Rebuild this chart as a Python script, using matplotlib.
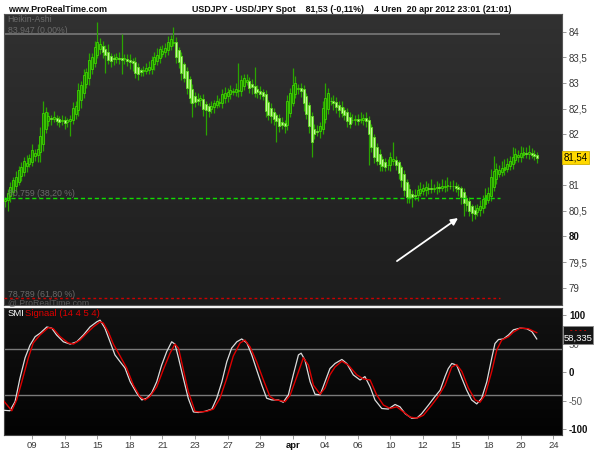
import numpy as np
import matplotlib
matplotlib.use("Agg")
import matplotlib.pyplot as plt
from matplotlib.colors import LinearSegmentedColormap
from matplotlib.patches import Rectangle
from matplotlib import font_manager

# ---------------- data ----------------
ha_close = [
    80.73, 80.85, 80.97, 81.10, 81.16, 81.29, 81.35, 81.48, 81.44, 81.52,
    81.68, 81.62, 81.70, 81.95, 82.40, 82.42, 82.35, 82.30, 82.33, 82.26,
    82.24, 82.28, 82.22, 82.27, 82.30, 82.50, 82.55, 82.85, 82.95, 83.15,
    83.20, 83.45, 83.50, 83.70, 83.80, 83.75, 83.60, 83.55, 83.45, 83.42,
    83.47, 83.50, 83.46, 83.45, 83.48, 83.42, 83.40, 83.38, 83.20, 83.18,
    83.22, 83.25, 83.28, 83.30, 83.45, 83.50, 83.55, 83.65, 83.62, 83.68,
    83.80, 83.85, 83.80, 83.50, 83.40, 83.20, 83.10, 82.90, 82.70, 82.60,
    82.62, 82.65, 82.70, 82.50, 82.48, 82.45, 82.55, 82.60, 82.65, 82.62,
    82.78, 82.80, 82.82, 82.85, 82.83, 82.87, 82.85, 83.05, 83.10, 83.05,
    82.90, 82.92, 82.80, 82.82, 82.78, 82.75, 82.45, 82.38, 82.35, 82.30,
    82.25, 82.15, 82.18, 82.15, 82.65, 82.80, 82.95, 83.00, 82.90, 82.85,
    82.60, 82.40, 82.15, 81.85, 82.00, 82.05, 82.15, 82.50, 82.70, 82.80,
    82.65, 82.60, 82.52, 82.48, 82.42, 82.38, 82.25, 82.20, 82.28, 82.30,
    82.25, 82.30, 82.32, 82.25, 82.00, 81.75, 81.55, 81.48, 81.42, 81.38,
    81.35, 81.40, 81.55, 81.50, 81.40, 81.25, 81.10, 80.90, 80.78, 80.75,
    80.77, 80.80, 80.90, 80.92, 80.95, 80.97, 80.93, 80.92, 80.95, 80.97,
    80.95, 80.98, 80.99, 81.00, 80.98, 80.99, 80.95, 80.92, 80.78, 80.65,
    80.62, 80.50, 80.45, 80.44, 80.55, 80.60, 80.72, 80.80, 80.85, 81.15,
    81.28, 81.32, 81.30, 81.33, 81.35, 81.42, 81.48, 81.55, 81.60, 81.58,
    81.62, 81.65, 81.62, 81.64, 81.60, 81.58, 81.54,
]
first_open = 80.70

# wick lengths in hundredths of a yen
wick_up = [
    5, 8, 10, 6, 12, 8, 10, 7, 15, 9,
    12, 8, 10, 18, 25, 10, 8, 6, 12, 5,
    6, 10, 8, 5, 8, 12, 10, 15, 8, 12,
    10, 14, 8, 12, 39, 12, 10, 8, 15, 6,
    10, 8, 12, 49, 8, 10, 12, 6, 10, 8,
    6, 8, 10, 12, 8, 10, 14, 8, 12, 10,
    12, 8, 30, 10, 6, 8, 5, 8, 6, 10,
    8, 12, 6, 10, 5, 8, 10, 6, 12, 8,
    10, 12, 8, 10, 8, 12, 54, 10, 8, 12,
    8, 10, 37, 8, 10, 6, 8, 5, 10, 8,
    6, 8, 10, 8, 12, 10, 35, 14, 8, 10,
    8, 6, 5, 8, 10, 12, 8, 14, 29, 10,
    8, 12, 10, 8, 12, 6, 8, 10, 12, 8,
    10, 14, 8, 12, 8, 6, 5, 8, 10, 6,
    8, 12, 10, 35, 8, 6, 5, 8, 6, 10,
    8, 12, 10, 14, 8, 12, 10, 18, 8, 12,
    10, 14, 12, 16, 10, 12, 8, 6, 5, 8,
    6, 8, 5, 10, 8, 12, 10, 14, 12, 16,
    30, 12, 10, 14, 16, 12, 10, 20, 12, 10,
    14, 10, 12, 15, 10, 8, 6,
]
wick_dn = [
    13, 22, 10, 8, 12, 6, 10, 8, 12, 5,
    8, 10, 15, 20, 12, 8, 10, 12, 6, 8,
    10, 8, 12, 10, 30, 8, 10, 12, 15, 10,
    8, 12, 10, 8, 6, 10, 12, 35, 8, 10,
    12, 8, 10, 28, 10, 8, 12, 14, 10, 12,
    8, 10, 6, 8, 10, 12, 8, 10, 6, 8,
    10, 8, 6, 12, 10, 14, 8, 12, 10, 27,
    10, 8, 12, 14, 50, 12, 8, 10, 6, 8,
    10, 8, 12, 10, 6, 8, 12, 10, 8, 6,
    10, 14, 8, 12, 10, 8, 12, 10, 14, 12,
    40, 10, 8, 12, 10, 8, 6, 8, 10, 12,
    14, 10, 12, 30, 10, 8, 12, 10, 8, 10,
    8, 12, 10, 14, 8, 10, 12, 8, 6, 10,
    8, 6, 10, 12, 60, 10, 12, 8, 14, 10,
    8, 10, 12, 8, 10, 12, 14, 10, 12, 10,
    19, 8, 10, 6, 8, 12, 10, 8, 6, 10,
    8, 6, 10, 8, 6, 10, 8, 12, 15, 25,
    12, 10, 15, 10, 8, 12, 10, 8, 6, 10,
    8, 10, 6, 8, 10, 6, 8, 10, 6, 8,
    10, 6, 8, 10, 6, 8, 10,
]

smi_bar = [-0.6, 1.8, 3.7, 5.5, 7.4, 9.2, 11.1, 12.9, 15.4, 17.2, 19.0, 21.5, 24.0,
           26.4, 28.9, 31.3, 33.8, 35.0, 36.8, 38.7, 40.5, 42.4, 44.2, 46.1, 48.5,
           50.4, 52.2, 54.0, 55.9, 57.7, 59.6, 61.4, 62.6, 63.9, 65.7, 67.5, 69.4,
           71.2, 73.7, 76.2, 78.0, 79.9, 81.7, 83.5, 85.4, 87.2, 89.1, 90.9, 92.7,
           94.6, 96.4, 98.3, 100.7, 102.5, 104.4, 106.2, 108.1, 109.1, 110.5,
           112.4, 114.2, 116.1, 117.9, 119.7, 121.6, 124.1, 125.9, 128.3, 130.8,
           132.6, 134.5, 136.3, 138.8, 141.2, 143.7, 145.5, 147.4, 149.8, 151.7,
           153.5, 156.0, 158.4, 160.3, 162.1, 163.3, 164.6, 166.4, 168.3, 170.1,
           171.9, 173.8, 175.6, 177.5, 179.3, 180.5, 181.8, 183.6, 185.5, 187.3,
           189.8, 192.2, 194.1, 195.9]
smi_val = [-67, -68, -52, -11, 25, 47, 62, 68, 79, 77, 65, 53, 49,
           53, 65, 79, 88, 91, 77, 53, 30, 18, 7, -17, -37,
           -49, -46, -37, -17, 12, 36, 53, 49, 25, -11, -46, -70,
           -71, -69, -65, -46, -17, 18, 42, 53, 58, 51, 30, 4,
           -23, -46, -49, -49, -53, -40, -5, 30, 33, 21,
           -17, -39, -40, -17, 6, 15, 22, 15, -5, -14,
           -8, -26, -49, -64, -65, -57, -61, -73, -81, -81,
           -73, -58, -43, -32, -8, 6, 15, 12, -11, -32,
           -49, -56, -46, -17, 24, 50, 57, 58, 65, 74,
           77, 76, 71, 58]

sig_bar = [-0.6, 2.5, 4.3, 6.2, 8.6, 10.4, 12.9, 16.0, 17.8, 20.3, 23.3, 25.2, 27.6,
           30.1, 32.5, 35.0, 36.2, 38.1, 39.9, 42.4, 44.8, 47.3, 49.7, 51.6, 53.4,
           55.9, 58.3, 60.8, 62.6, 63.9, 65.7, 67.5, 70.0, 71.8, 74.3, 76.8, 79.2,
           81.7, 84.1, 86.6, 88.4, 90.3, 92.7, 95.2, 97.6, 99.5, 101.3, 103.2,
           105.0, 107.5, 109.9, 111.8, 113.6, 116.1, 117.9, 119.7, 121.6, 124.1,
           126.5, 129.6, 132.0, 134.5, 136.9, 139.4, 141.9, 144.3, 146.8, 149.2,
           151.7, 154.1, 157.2, 159.6, 162.1, 164.6, 166.4, 168.3, 170.7, 173.2,
           175.0, 176.9, 179.3, 181.2, 183.0, 185.5, 187.3, 189.8, 192.8, 195.9]
sig_val = [-50, -68, -49, -17, 25, 51, 65, 78, 76, 62, 51, 49, 56,
           68, 79, 88, 86, 70, 49, 28, 7, -23, -43, -49, -43,
           -26, 4, 33, 49, 42, 4, -34, -69, -70, -69, -65, -46,
           -11, 28, 51, 56, 44, 18, -14, -43, -49, -50, -52,
           -41, -8, 25, 12, -23, -39, -28, -5, 9, 19,
           12, -5, -12, -14, -40, -58, -64, -61, -70, -79,
           -81, -76, -58, -43, -23, 9, 13, 1, -28, -49,
           -53, -40, 1, 39, 56, 62, 70, 77, 76, 69]

fib_levels = [83.947, 80.759, 78.789]
fib_labels = ["83,947 (0,00%)", "80,759 (38,20 %)", "78,789 (61,80 %)"]
fib_end_bar = 182.4

price_ticks = [79, 79.5, 80, 80.5, 81, 81.5, 82, 82.5, 83, 83.5, 84]
price_tick_labels = ["79", "79,5", "80", "80,5", "81", "", "82", "82,5", "83", "83,5", "84"]
smi_ticks = [100, 50, 0, -50, -100]
smi_tick_labels = ["100", "50", "0", "-50", "-100"]
date_ticks = [10, 22, 34, 46, 58, 70, 82, 94, 106, 118, 130, 142, 154, 166, 178, 190, 202]
date_labels = ["09", "13", "15", "18", "21", "23", "27", "29", "apr", "04", "06",
               "10", "12", "15", "18", "20", "24"]
last_price = 81.54
last_price_label = "81,54"
last_smi_label = "58,335"
arrow_from = (144.4, 79.52)
arrow_to = (166.9, 80.36)
header_left = "www.ProRealTime.com"
header_main = "USDJPY - USD/JPY Spot    81,53 (-0,11%)    4 Uren  20 apr 2012 23:01 (21:01)"

# ---------------- fonts ----------------
names = {f.name for f in font_manager.fontManager.ttflist}
narrow = "Liberation Sans Narrow" if "Liberation Sans Narrow" in names else "Liberation Sans"
plt.rcParams['font.family'] = ['Liberation Sans', 'DejaVu Sans']

# ---------------- figure ----------------
fig = plt.figure(figsize=(6, 4.5), dpi=100)
fig.patch.set_facecolor("white")

xlim = (-0.37, 205.2)
ax = fig.add_axes([4/600, 1-305/450, 558/600, 291/450])
ax2 = fig.add_axes([4/600, 1-435/450, 558/600, 127/450])

def gradient(a, top, bottom, ylim):
    cmap = LinearSegmentedColormap.from_list("g", [bottom, top])
    grad = np.linspace(0, 1, 256)[:, None]
    a.imshow(grad, extent=[xlim[0], xlim[1], ylim[0], ylim[1]], origin="lower",
             aspect="auto", cmap=cmap, zorder=0, interpolation="bicubic")

pylim = (78.662, 84.346)
gradient(ax, "#313131", "#1d1d1d", pylim)

# Heikin-Ashi candles
n = len(ha_close)
x = np.arange(n)
c = np.array(ha_close)
o = np.empty(n)
o[0] = first_open
for i in range(1, n):
    o[i] = (o[i-1] + c[i-1]) / 2.0
top = np.maximum(o, c)
bot = np.minimum(o, c)
hi = top + np.array(wick_up) / 100.0
lo = bot - np.array(wick_dn) / 100.0
up = c >= o
ax.vlines(x, lo, hi, colors="#2aa500", linewidth=0.9, zorder=2)
ax.bar(x[up], (top - bot)[up] + 0.004, bottom=bot[up], width=0.7,
       color="#1c7f00", edgecolor="#3fd400", linewidth=0.6, zorder=3)
ax.bar(x[~up], (top - bot)[~up] + 0.004, bottom=bot[~up], width=0.7,
       color="#c2f79a", edgecolor="#5fdc1e", linewidth=0.6, zorder=3)

# Fibonacci lines
ax.hlines(fib_levels[0], xlim[0], fib_end_bar, colors="#6e6e6e", linewidth=1.4, zorder=1)
ax.hlines(fib_levels[1], xlim[0], fib_end_bar, colors="#11dd00", linewidth=1.0,
          linestyles=(0, (3, 2)), zorder=4)
ax.hlines(fib_levels[2], xlim[0], fib_end_bar, colors="#cc0000", linewidth=1.0,
          linestyles=(0, (2, 2)), zorder=4)
fib_offsets = [0.07, 0.08, 0.07]
for lvl, lab, off in zip(fib_levels, fib_labels, fib_offsets):
    ax.text(1.0, lvl + off, lab, color="#6a6a6a", fontsize=6.3, va="center",
            ha="left", zorder=5)
ax.text(1.0, 84.23, "Heikin-Ashi", color="#6a6a6a", fontsize=6.3, va="center")
ax.text(1.0, 78.70, "@ ProRealTime.com", color="#5a5a5a", fontsize=6.3, va="center")

# arrow
ax.annotate("", xy=arrow_to, xytext=arrow_from,
            arrowprops=dict(arrowstyle="-|>", color="white", lw=1.3,
                            mutation_scale=10, shrinkA=0, shrinkB=0), zorder=6)

ax.set_xlim(*xlim)
ax.set_ylim(*pylim)
ax.yaxis.tick_right()
ax.set_yticks(price_ticks)
ax.set_yticklabels(price_tick_labels)
for t, lab in zip(ax.get_yticklabels(), price_tick_labels):
    t.set_color("#3a3a3a")
    t.set_fontsize(7)
    if lab == "80":
        t.set_fontweight("bold")
        t.set_color("#111111")
ax.tick_params(axis="y", direction="out", length=3, width=0.6, color="#888888", pad=2)
ax.set_xticks([])
for s in ax.spines.values():
    s.set_color("#555555")
    s.set_linewidth(0.8)

ax.text(1.003, last_price, last_price_label, transform=ax.get_yaxis_transform(),
        fontsize=7, color="black", va="center", ha="left", zorder=10,
        bbox=dict(boxstyle="square,pad=0.15", facecolor="#ffd800", edgecolor="#d0b000", lw=0.6))

# ---------------- SMI panel ----------------
sylim = (-110.5, 112.3)
gradient(ax2, "#121212", "#030303", sylim)
ax2.hlines([40, -40], xlim[0], xlim[1], colors="#7a7a7a", linewidth=1.0, zorder=1)
ax2.plot(smi_bar, smi_val, color="#dcdcdc", linewidth=0.9, zorder=3)
ax2.plot(sig_bar, sig_val, color="#dd0000", linewidth=1.0, zorder=4)
ax2.set_xlim(*xlim)
ax2.set_ylim(*sylim)
ax2.yaxis.tick_right()
ax2.set_yticks(smi_ticks)
ax2.set_yticklabels(smi_tick_labels)
for t, lab in zip(ax2.get_yticklabels(), smi_tick_labels):
    t.set_fontsize(7)
    if lab in ("100", "0", "-100"):
        t.set_fontweight("bold")
        t.set_color("#111111")
    else:
        t.set_color("#555555")
ax2.tick_params(axis="y", direction="out", length=3, width=0.6, color="#888888", pad=2)
ax2.set_xticks(date_ticks)
ax2.set_xticklabels(date_labels)
for t, lab in zip(ax2.get_xticklabels(), date_labels):
    t.set_fontsize(6.8)
    t.set_color("#3a3a3a")
    if lab == "apr":
        t.set_fontweight("bold")
        t.set_color("#111111")
ax2.tick_params(axis="x", direction="out", length=3, width=0.6, color="#888888", pad=1)
for s in ax2.spines.values():
    s.set_color("#444444")
    s.set_linewidth(0.8)

ax2.text(0.006, 0.955, "SMI", transform=ax2.transAxes, color="white", fontsize=6.8, va="center")
ax2.text(0.037, 0.955, "Signaal (14 4 5 4)", transform=ax2.transAxes, color="#dd0000",
         fontsize=6.8, va="center")

# SMI last-value box (drawn over the axis labels, like the reference)
fig.patches.append(Rectangle((563/600, 1-344/450), 30/600, 18/450, transform=fig.transFigure,
                             facecolor="#151515", edgecolor="#8a8a8a", lw=0.7, zorder=20))
fig.text(578/600, 1-331/450, "- - - -", color="#dd0000", fontsize=5.5, ha="center",
         va="center", zorder=21, fontweight="bold")
fig.text(578/600, 1-338.5/450, last_smi_label, color="white", fontsize=6.8, ha="center",
         va="center", zorder=21)

# ---------------- header ----------------
renderer = fig.canvas.get_renderer()

def fitted_text(xpix, label, target_w, size):
    t = fig.text(xpix/600, 1-10/450, label, fontsize=size, fontweight="bold",
                 family=[narrow, "DejaVu Sans"], va="center", ha="left", color="#111111")
    w = t.get_window_extent(renderer=renderer).width
    if w > 0:
        t.set_fontsize(size * target_w / w)
    return t

fitted_text(8, header_left, 100, 8.2)
fitted_text(192, header_main, 318, 7.8)

fig.savefig("out.png", dpi=100, facecolor="white")
